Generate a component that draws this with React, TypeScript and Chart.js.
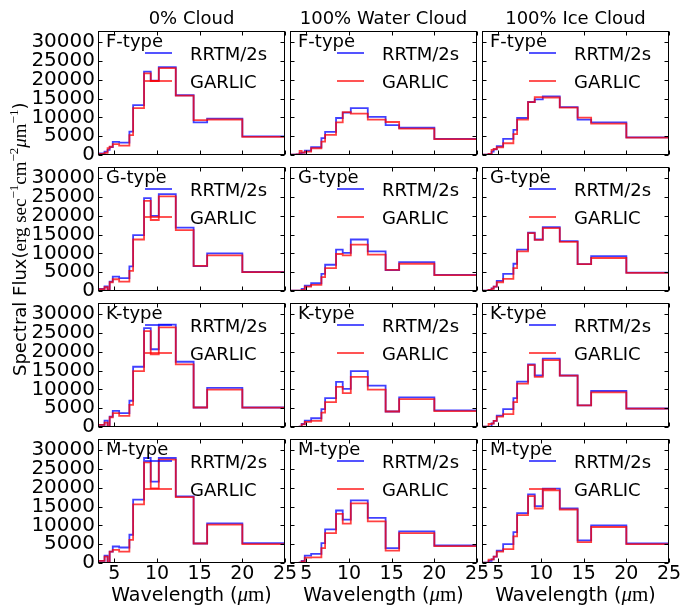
import React, { useEffect, useRef } from "react";
import { Chart, registerables } from "chart.js";
Chart.register(...registerables);

const FIG_W = 680;
const FIG_H = 605;

// band edges (micrometres), ascending
const bandEdges = [3.077, 3.846, 4.202, 4.444, 4.808, 5.556, 6.757, 7.194, 8.475, 9.259, 10.204, 12.195, 14.286, 15.873, 20.0, 28.571];
const xTicks = [5, 10, 15, 20, 25];
const yTicks = [0, 5000, 10000, 15000, 20000, 25000, 30000];
const xMin = 3.077;
const xMax = 25;
const yMin = 0;
const yMax = 33000;

const columnTitles = ["0% Cloud", "100% Water Cloud", "100% Ice Cloud"];
const starTypes = ["F-type", "G-type", "K-type", "M-type"];
const seriesLabels = ["RRTM/2s", "GARLIC"];

// F-type
const fClearRrtm = [450, 900, 1340, 2100, 3500, 3300, 6200, 13250, 22200, 19800, 23400, 15900, 8700, 9700, 4950];
const fClearGarlic = [300, 600, 1800, 2200, 2900, 2500, 5300, 12500, 21700, 19700, 23100, 15800, 9300, 9450, 4800];
const fWaterRrtm = [100, 180, 500, 630, 1160, 2060, 4480, 6180, 9850, 11300, 12450, 10120, 7970, 7250, 4300];
const fWaterGarlic = [100, 180, 1100, 650, 900, 1790, 3580, 5370, 8690, 11400, 11000, 9400, 8780, 7000, 4200];
const fIceRrtm = [100, 270, 900, 1520, 2330, 4300, 6700, 9850, 14100, 14800, 15580, 12750, 9400, 8690, 4700];
const fIceGarlic = [100, 270, 1340, 1600, 2060, 3130, 5550, 9400, 14060, 15400, 15300, 12600, 9940, 8330, 4650];
// G-type
const gClearRrtm = [540, 1200, 200, 2500, 3850, 3400, 6540, 14870, 24700, 19970, 25800, 16840, 6600, 10030, 5050];
const gClearGarlic = [500, 1000, 150, 2330, 3130, 2500, 5370, 13700, 24000, 18900, 25160, 16200, 6700, 9490, 5000];
const gWaterRrtm = [100, 100, 100, 540, 1430, 2060, 4570, 6980, 11010, 10120, 13700, 10570, 5550, 7700, 4300];
const gWaterGarlic = [100, 100, 100, 300, 1160, 1610, 3670, 6090, 9850, 9490, 12360, 9670, 5600, 7250, 4250];
const gIceRrtm = [100, 270, 720, 1160, 2690, 4570, 7250, 11010, 15500, 13700, 17000, 13250, 7160, 9300, 4900];
const gIceGarlic = [100, 270, 600, 1160, 2330, 3220, 6090, 10570, 15400, 13600, 16750, 13070, 7160, 8780, 4850];
// K-type
const kClearRrtm = [540, 1700, 100, 2780, 4300, 3670, 6990, 16030, 26300, 20690, 27220, 17370, 5190, 10390, 5190];
const kClearGarlic = [540, 1160, 100, 2600, 3670, 2950, 5900, 14870, 25500, 19340, 26500, 16650, 5190, 9940, 5150];
const kWaterRrtm = [50, 50, 100, 800, 1700, 2330, 4750, 7700, 12000, 10120, 14870, 11000, 4120, 7880, 4400];
const kWaterGarlic = [50, 50, 100, 700, 1340, 1610, 3850, 6630, 10660, 9040, 13340, 9940, 4120, 7430, 4200];
const kIceRrtm = [100, 100, 990, 1610, 3040, 4750, 7700, 12090, 16650, 13700, 18180, 13700, 5730, 9580, 4930];
const kIceGarlic = [100, 800, 900, 1610, 2780, 3400, 6630, 11550, 16480, 13340, 17820, 13650, 5730, 9220, 4900];
// M-type
const mClearRrtm = [540, 1970, 100, 3040, 4390, 4120, 7520, 16840, 27940, 21670, 27940, 17730, 5190, 10570, 5280];
const mClearGarlic = [540, 1700, 100, 3040, 3490, 3040, 6180, 15580, 26780, 19880, 27490, 17550, 5190, 10210, 5010];
const mWaterRrtm = [50, 50, 100, 540, 1970, 2420, 5280, 8960, 13970, 11550, 16660, 12000, 3940, 8420, 4660];
const mWaterGarlic = [50, 50, 100, 450, 1430, 1520, 3940, 7970, 13070, 10480, 15850, 11100, 3310, 7970, 4480];
const mIceRrtm = [100, 540, 990, 1700, 3310, 5010, 8240, 13250, 18270, 15130, 19790, 14500, 6000, 10030, 5190];
const mIceGarlic = [100, 900, 990, 1700, 3040, 3670, 7070, 12720, 17820, 14500, 19340, 14240, 5550, 9580, 5010];

const panelSeries = [
  [[fClearRrtm, fClearGarlic], [fWaterRrtm, fWaterGarlic], [fIceRrtm, fIceGarlic]],
  [[gClearRrtm, gClearGarlic], [gWaterRrtm, gWaterGarlic], [gIceRrtm, gIceGarlic]],
  [[kClearRrtm, kClearGarlic], [kWaterRrtm, kWaterGarlic], [kIceRrtm, kIceGarlic]],
  [[mClearRrtm, mClearGarlic], [mWaterRrtm, mWaterGarlic], [mIceRrtm, mIceGarlic]],
];

// layout
const colLeft = [98, 290, 482];
const rowTop = [31, 167, 303, 439];
const panelW = 187;
const panelH = 124;
const yAxisW = 70;
const xAxisH = 30;

const SANS = "'DejaVu Sans'";
const SERIF = "'Liberation Serif'";
const lineColors = ["rgba(0,0,255,0.75)", "rgba(255,0,0,0.75)"];

type Piece = { text: string; font: string; dy?: number };

function drawPieces(ctx: CanvasRenderingContext2D, pieces: Piece[], x: number, y: number, align: "left" | "center") {
  let total = 0;
  for (const p of pieces) {
    ctx.font = p.font;
    total += ctx.measureText(p.text).width;
  }
  let cx = align === "center" ? x - total / 2 : x;
  ctx.textAlign = "left";
  ctx.textBaseline = "alphabetic";
  for (const p of pieces) {
    ctx.font = p.font;
    ctx.fillText(p.text, cx, y + (p.dy || 0));
    cx += ctx.measureText(p.text).width;
  }
}

const decorPlugin = {
  id: "panelDecor",
  afterDatasetsDraw(chart: any) {
    const o = chart.options.plugins.panelDecor;
    const ctx: CanvasRenderingContext2D = chart.ctx;
    const a = chart.chartArea;
    const xs = chart.scales.x;
    const ys = chart.scales.y;
    ctx.save();
    ctx.strokeStyle = "#000";
    ctx.lineWidth = 1;
    const L = Math.round(a.left) + 0.5;
    const R = Math.round(a.right) - 0.5;
    const T = Math.round(a.top) + 0.5;
    const B = Math.round(a.bottom) - 0.5;
    ctx.strokeRect(L, T, R - L, B - T);
    const tl = 4;
    ctx.beginPath();
    for (const t of xs.ticks) {
      const px = Math.round(xs.getPixelForValue(t.value)) + 0.5;
      ctx.moveTo(px, B); ctx.lineTo(px, B - tl);
      ctx.moveTo(px, T); ctx.lineTo(px, T + tl);
    }
    for (const t of ys.ticks) {
      const py = Math.round(ys.getPixelForValue(t.value)) + 0.5;
      ctx.moveTo(L, py); ctx.lineTo(L + tl, py);
      ctx.moveTo(R, py); ctx.lineTo(R - tl, py);
    }
    ctx.stroke();

    // legend (no frame)
    chart.data.datasets.forEach((ds: any, i: number) => {
      const yy = a.top + 22 + 28 * i;
      ctx.strokeStyle = ds.borderColor;
      ctx.lineWidth = ds.borderWidth;
      ctx.beginPath();
      ctx.moveTo(a.left + 47, yy);
      ctx.lineTo(a.left + 74, yy);
      ctx.stroke();
      ctx.fillStyle = "#000";
      ctx.font = `18px ${SANS}`;
      ctx.textAlign = "left";
      ctx.textBaseline = "alphabetic";
      ctx.fillText(ds.label, a.left + 92, a.top + 28.5 + 28 * i);
    });

    ctx.fillStyle = "#000";
    ctx.font = `18px ${SANS}`;
    ctx.textAlign = "left";
    ctx.textBaseline = "alphabetic";
    ctx.fillText(o.panelLabel, a.left + 8, a.top + 15.5);

    if (o.columnTitle) {
      ctx.font = `18px ${SANS}`;
      ctx.textAlign = "center";
      ctx.fillText(o.columnTitle, (a.left + a.right) / 2, 24);
    }
    if (o.xTitle) {
      drawPieces(
        ctx,
        [
          { text: "Wavelength (", font: `19px ${SANS}` },
          { text: "μ", font: `italic 21px ${SERIF}` },
          { text: "m", font: `21px ${SERIF}` },
          { text: ")", font: `19px ${SANS}` },
        ],
        (a.left + a.right) / 2,
        601,
        "center"
      );
    }
    if (o.yTitle) {
      ctx.translate(26, 376);
      ctx.rotate(-Math.PI / 2);
      drawPieces(
        ctx,
        [
          { text: "Spectral Flux(", font: `18px ${SANS}` },
          { text: "erg sec", font: `19px ${SERIF}` },
          { text: "−1", font: `13px ${SERIF}`, dy: -8 },
          { text: "cm", font: `19px ${SERIF}` },
          { text: "−2", font: `13px ${SERIF}`, dy: -8 },
          { text: "μ", font: `italic 19px ${SERIF}` },
          { text: "m", font: `19px ${SERIF}` },
          { text: "−1", font: `13px ${SERIF}`, dy: -8 },
          { text: ")", font: `18px ${SANS}` },
        ],
        0,
        0,
        "left"
      );
    }
    ctx.restore();
  },
};

function stepPoints(values: number[]) {
  const pts = values.map((v, i) => ({ x: bandEdges[i], y: v }));
  pts.push({ x: bandEdges[values.length], y: values[values.length - 1] });
  return pts;
}

function Panel({ row, col }: { row: number; col: number }) {
  const ref = useRef<HTMLCanvasElement>(null);
  useEffect(() => {
    const canvas = ref.current!;
    const showY = col === 0;
    const showX = row === 3;
    const yw = showY ? yAxisW : 0;
    const xh = showX ? xAxisH : 0;
    const L = colLeft[col];
    const T = rowTop[row];
    const series = panelSeries[row][col];
    const chart = new Chart(canvas, {
      type: "line",
      data: {
        datasets: series.map((vals, i) => ({
          label: seriesLabels[i],
          data: stepPoints(vals),
          stepped: "before" as const,
          borderColor: lineColors[i],
          borderWidth: 1.8,
          pointRadius: 0,
          fill: false,
          order: i === 0 ? 1 : 0,
        })),
      },
      options: {
        responsive: false,
        animation: false,
        events: [],
        layout: {
          padding: {
            left: L - yw,
            top: T,
            right: FIG_W - (L + panelW),
            bottom: FIG_H - (T + panelH) - xh,
          },
        },
        scales: {
          x: {
            type: "linear",
            min: xMin,
            max: xMax,
            afterBuildTicks: (s: any) => {
              s.ticks = xTicks.map((v) => ({ value: v }));
            },
            afterFit: (s: any) => {
              s.height = xh;
              s.paddingLeft = 0;
              s.paddingRight = 0;
            },
            ticks: {
              display: showX,
              padding: 0,
              color: "#000",
              font: { family: SANS, size: 19 },
              maxRotation: 0,
              minRotation: 0,
              autoSkip: false,
              callback: (v: any) => String(v),
            },
            grid: { display: false, drawTicks: false },
            border: { display: false },
          },
          y: {
            type: "linear",
            min: yMin,
            max: yMax,
            afterBuildTicks: (s: any) => {
              s.ticks = yTicks.map((v) => ({ value: v }));
            },
            afterFit: (s: any) => {
              s.width = yw;
              s.paddingTop = 0;
              s.paddingBottom = 0;
            },
            ticks: {
              display: showY,
              padding: 3,
              color: "#000",
              font: { family: SANS, size: 20 },
              autoSkip: false,
              callback: (v: any) => String(v),
            },
            grid: { display: false, drawTicks: false },
            border: { display: false },
          },
        },
        plugins: {
          legend: { display: false },
          tooltip: { enabled: false },
          panelDecor: {
            panelLabel: starTypes[row],
            columnTitle: row === 0 ? columnTitles[col] : null,
            xTitle: showX,
            yTitle: row === 0 && col === 0,
          },
        } as any,
      },
      plugins: [decorPlugin],
    });
    return () => chart.destroy();
  }, [row, col]);
  return (
    <canvas
      ref={ref}
      width={FIG_W}
      height={FIG_H}
      style={{ position: "absolute", left: 0, top: 0, width: FIG_W, height: FIG_H }}
    />
  );
}

export default function App() {
  const cells: React.ReactNode[] = [];
  for (let r = 0; r < 4; r++) for (let c = 0; c < 3; c++) cells.push(<Panel key={`${r}-${c}`} row={r} col={c} />);
  return (
    <div style={{ position: "fixed", left: 0, top: 0, width: FIG_W, height: FIG_H, background: "#fff", overflow: "hidden" }}>
      {cells}
    </div>
  );
}
